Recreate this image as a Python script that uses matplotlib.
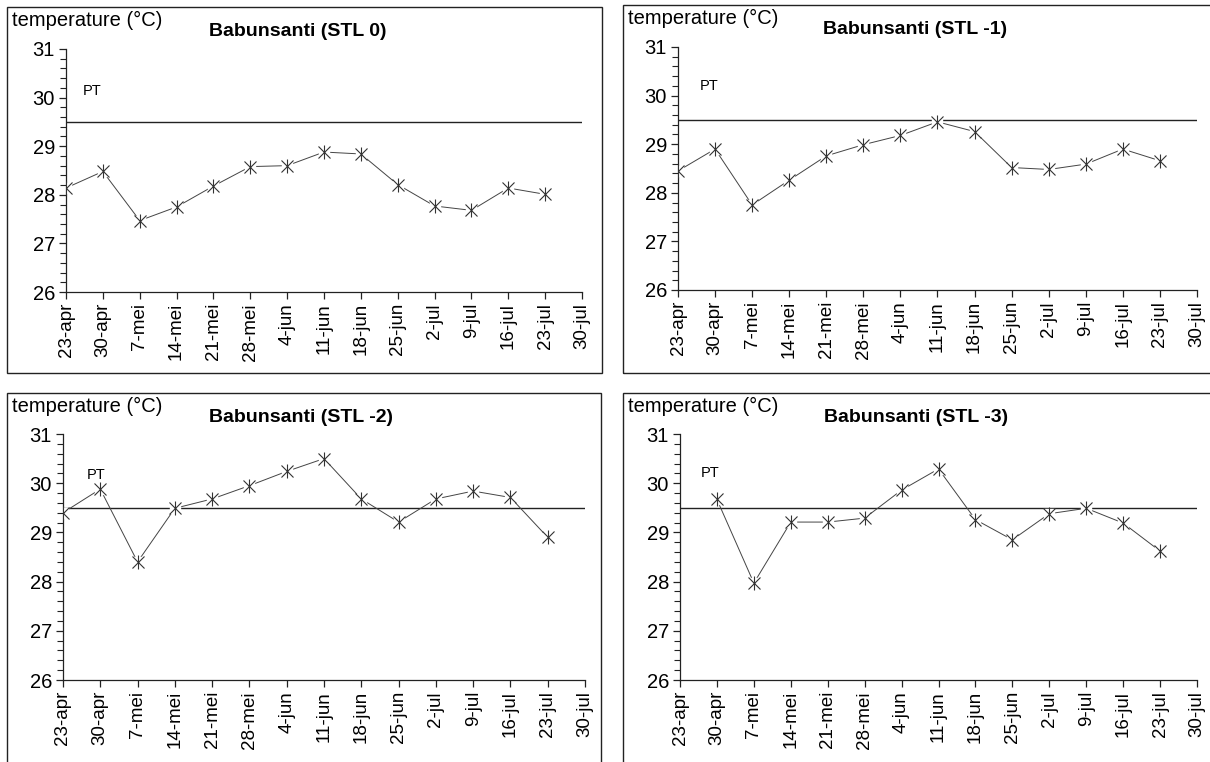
import numpy as np
import matplotlib
matplotlib.use("Agg")
from matplotlib import pyplot as plt
from matplotlib.patches import Rectangle
from matplotlib.ticker import MultipleLocator

# weekly water temperature per station level
weeks = ['23-apr', '30-apr', '7-mei', '14-mei', '21-mei', '28-mei', '4-jun',
         '11-jun', '18-jun', '25-jun', '2-jul', '9-jul', '16-jul', '23-jul', '30-jul']
stl_0 = [28.14, 28.48, 27.47, 27.75, 28.18, 28.58, 28.60,
         28.88, 28.84, 28.21, 27.77, 27.68, 28.14, 28.01]
stl_1 = [28.45, 28.90, 27.75, 28.26, 28.76, 28.99, 29.18,
         29.46, 29.26, 28.52, 28.48, 28.59, 28.90, 28.66]
stl_2 = [29.40, 29.88, 28.40, 29.49, 29.68, 29.95, 30.24,
         30.50, 29.68, 29.21, 29.68, 29.84, 29.71, 28.90]
stl_3 = [np.nan, 29.67, 27.97, 29.21, 29.21, 29.29, 29.86,
         30.29, 29.26, 28.85, 29.38, 29.49, 29.19, 28.62]
titles = ['Babunsanti (STL 0)', 'Babunsanti (STL -1)',
          'Babunsanti (STL -2)', 'Babunsanti (STL -3)']
pt_value = 29.5

plt.rcParams["font.family"] = ['Liberation Sans', 'DejaVu Sans']
plt.rcParams["font.size"] = 12

W, H = 1210, 762
fig = plt.figure(figsize=(W / 100, H / 100), dpi=100)


def px(x0, y0, x1, y1):
    # pixel box (top-left origin) -> figure fraction rect
    return [x0 / W, 1 - y1 / H, (x1 - x0) / W, (y1 - y0) / H]


panels = [
    dict(values=stl_0, ax=(66, 49, 582, 292), box=(7, 7, 602, 373),
         title_xy=(298, 31), pt_x=0.45, pt_y=30.14),
    dict(values=stl_1, ax=(678, 47, 1197, 290), box=(623, 5, 1230, 373),
         title_xy=(915, 29), pt_x=0.58, pt_y=30.2),
    dict(values=stl_2, ax=(63, 434, 585, 680), box=(7, 393, 601, 790),
         title_xy=(301, 418), pt_x=0.64, pt_y=30.17),
    dict(values=stl_3, ax=(680, 434, 1197, 680), box=(623, 393, 1230, 790),
         title_xy=(916, 418), pt_x=0.55, pt_y=30.2),
]

x = np.arange(len(weeks))

for p, title in zip(panels, titles):
    # panel frame
    bx0, by0, bx1, by1 = p['box']
    fig.patches.append(Rectangle((bx0 / W, 1 - by1 / H), (bx1 - bx0) / W, (by1 - by0) / H,
                                 transform=fig.transFigure, fill=False,
                                 edgecolor='#222222', linewidth=1.0, zorder=0))
    fig.text((bx0 + 5) / W, 1 - (by0 + 4) / H, 'temperature (°C)',
             fontsize=14.5, ha='left', va='top')
    fig.text(p['title_xy'][0] / W, 1 - p['title_xy'][1] / H, title,
             fontsize=14, fontweight='bold', ha='center', va='center')

    ax = fig.add_axes(px(*p['ax']))
    vals = np.array(p['values'])
    n = len(vals)

    ax.axhline(pt_value, color='#222222', linewidth=1.0, zorder=1)
    ax.plot(x[:n], vals, color='#444444', linewidth=0.7, zorder=2)
    # white pad under each marker leaves small gaps in the lines
    ax.plot(x[:n], vals, linestyle='none', marker='s', markersize=7,
            markerfacecolor='white', markeredgecolor='white', zorder=3)
    ax.plot(x[:n], vals, linestyle='none', marker='x', markersize=8,
            markeredgecolor='#333333', markeredgewidth=0.8, zorder=4)
    ax.plot(x[:n], vals, linestyle='none', marker='|', markersize=10.5,
            markeredgecolor='#333333', markeredgewidth=0.8, zorder=4)

    ax.text(p['pt_x'], p['pt_y'], 'PT', fontsize=10.5, ha='left', va='center')

    ax.set_xlim(0, len(weeks) - 1)
    ax.set_ylim(26, 31)
    ax.set_xticks(x)
    ax.set_xticklabels(weeks, rotation=90, fontsize=13.5)
    ax.yaxis.set_major_locator(MultipleLocator(1))
    ax.yaxis.set_minor_locator(MultipleLocator(0.2))
    ax.tick_params(axis='both', which='major', direction='out', length=5,
                   width=0.9, color='#222222', pad=3)
    ax.tick_params(axis='y', which='minor', direction='out', length=4,
                   width=0.8, color='#222222')
    ax.tick_params(axis='y', labelsize=14.5)
    for side in ('top', 'right'):
        ax.spines[side].set_visible(False)
    for side in ('left', 'bottom'):
        ax.spines[side].set_color('#222222')
        ax.spines[side].set_linewidth(0.9)
    ax.patch.set_alpha(0)

fig.savefig('out.png', dpi=100)
plt.close()
